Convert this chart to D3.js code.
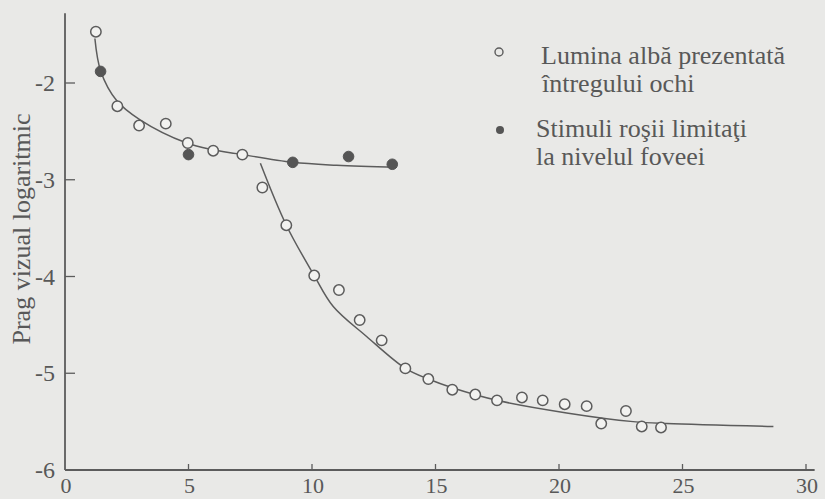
<!DOCTYPE html>
<html>
<head>
<meta charset="utf-8">
<script src="https://cdn.jsdelivr.net/npm/d3@7"></script>
<style>
  html, body { margin: 0; padding: 0; background: #e9e9e7; }
  svg { display: block; }
  text { font-family: "Liberation Serif", "DejaVu Serif", serif; fill: #585858; }
</style>
</head>
<body>
<svg id="chart" width="825" height="499"></svg>
<script>
// open circles: white light presented to the whole eye (minutes, log threshold)
const openMinutes = [1.25, 2.12, 3.0, 4.08, 4.97, 6.0, 7.18, 7.99, 8.96, 10.09, 11.09, 11.93, 12.82, 13.78,
  14.71, 15.68, 16.61, 17.49, 18.5, 19.34, 20.23, 21.12, 21.71, 22.71, 23.35, 24.13];
const openThreshold = [-1.47, -2.24, -2.44, -2.42, -2.62, -2.7, -2.74, -3.08, -3.47, -3.99, -4.14, -4.45, -4.66, -4.95,
  -5.06, -5.17, -5.22, -5.28, -5.25, -5.28, -5.32, -5.34, -5.52, -5.39, -5.55, -5.56];

// filled circles: red stimuli limited to the fovea
const filledMinutes = [1.44, 5.0, 9.22, 11.48, 13.25];
const filledThreshold = [-1.88, -2.74, -2.82, -2.76, -2.84];

// fitted curves
const coneCurveX = [1.21, 1.45, 2.09, 3.04, 4.93, 6.0, 6.95, 9.22, 11.0, 13.43];
const coneCurveY = [-1.54, -1.88, -2.18, -2.38, -2.62, -2.69, -2.73, -2.82, -2.85, -2.87];
const rodCurveX = [7.91, 8.96, 10.09, 10.86, 12.21, 13.78, 14.71, 15.68, 17.49, 20.31, 23.0, 24.36, 28.68];
const rodCurveY = [-2.83, -3.47, -3.99, -4.31, -4.62, -4.95, -5.06, -5.15, -5.28, -5.41, -5.5, -5.52, -5.55];

const xTicks = [0, 5, 10, 15, 20, 25, 30];
const yTicks = [-2, -3, -4, -5, -6];
const yTitle = "Prag vizual logaritmic";
const legendOpen = ["Lumina albă prezentată", "întregului ochi"];
const legendFilled = ["Stimuli roşii limitaţi", "la nivelul foveei"];

const svg = d3.select("#chart");
const ink = "#5c5c5c";

const x = d3.scaleLinear().domain([0, 30]).range([65, 806]);
const y = d3.scaleLinear().domain([-6, -2]).range([470, 83]);

// axes
svg.append("line")
  .attr("x1", x(0)).attr("x2", x(0))
  .attr("y1", y(-6)).attr("y2", y(-1.28))
  .attr("stroke", ink).attr("stroke-width", 1.8);

svg.append("line")
  .attr("x1", x(0)).attr("x2", x(30.35))
  .attr("y1", y(-6)).attr("y2", y(-6))
  .attr("stroke", ink).attr("stroke-width", 1.8);

svg.selectAll(".ytick")
  .data(yTicks.filter((d) => d !== -6))
  .enter()
  .append("line")
  .attr("x1", x(0)).attr("x2", x(0) + 10)
  .attr("y1", (d) => y(d)).attr("y2", (d) => y(d))
  .attr("stroke", ink).attr("stroke-width", 1.3);

svg.selectAll(".xtick")
  .data(xTicks.filter((d) => d !== 0))
  .enter()
  .append("line")
  .attr("x1", (d) => x(d)).attr("x2", (d) => x(d))
  .attr("y1", y(-6)).attr("y2", y(-6) - 6)
  .attr("stroke", ink).attr("stroke-width", 1.3);

svg.selectAll(".ylabel")
  .data(yTicks)
  .enter()
  .append("text")
  .attr("x", x(0) - 10)
  .attr("y", (d) => y(d))
  .attr("text-anchor", "end")
  .attr("dominant-baseline", "central")
  .attr("font-size", "24px")
  .text((d) => d);

svg.selectAll(".xlabel")
  .data(xTicks)
  .enter()
  .append("text")
  .attr("x", (d) => x(d) + 1)
  .attr("y", 493)
  .attr("text-anchor", "middle")
  .attr("font-size", "22px")
  .text((d) => d);

svg.append("text")
  .attr("transform", `translate(30, 229) rotate(-90)`)
  .attr("text-anchor", "middle")
  .attr("font-size", "26px")
  .text(yTitle);

// curves
const line = d3.line()
  .x((d) => x(d[0]))
  .y((d) => y(d[1]))
  .curve(d3.curveCatmullRom.alpha(0.5));

[[coneCurveX, coneCurveY], [rodCurveX, rodCurveY]].forEach(([cx, cy]) => {
  svg.append("path")
    .attr("d", line(cx.map((v, i) => [v, cy[i]])))
    .attr("fill", "none")
    .attr("stroke", ink)
    .attr("stroke-width", 1.5);
});

// points
svg.selectAll(".open")
  .data(openMinutes.map((v, i) => [v, openThreshold[i]]))
  .enter()
  .append("circle")
  .attr("cx", (d) => x(d[0]))
  .attr("cy", (d) => y(d[1]))
  .attr("r", 5.2)
  .attr("fill", "#f2f2f0")
  .attr("stroke", ink)
  .attr("stroke-width", 1.5);

svg.selectAll(".filled")
  .data(filledMinutes.map((v, i) => [v, filledThreshold[i]]))
  .enter()
  .append("circle")
  .attr("cx", (d) => x(d[0]))
  .attr("cy", (d) => y(d[1]))
  .attr("r", 5.3)
  .attr("fill", "#555")
  .attr("stroke", "#555");

// legend
svg.append("circle")
  .attr("cx", 499).attr("cy", 52).attr("r", 4)
  .attr("fill", "none").attr("stroke", ink).attr("stroke-width", 1.4);

svg.append("circle")
  .attr("cx", 500).attr("cy", 130).attr("r", 4)
  .attr("fill", "#555");

svg.selectAll(".legOpen")
  .data(legendOpen)
  .enter()
  .append("text")
  .attr("x", (d, i) => (i === 0 ? 541 : 542))
  .attr("y", (d, i) => 64 + i * 28)
  .attr("font-size", "26px")
  .text((d) => d);

svg.selectAll(".legFilled")
  .data(legendFilled)
  .enter()
  .append("text")
  .attr("x", 536)
  .attr("y", (d, i) => 137 + i * 28)
  .attr("font-size", "26px")
  .text((d) => d);
</script>
</body>
</html>
